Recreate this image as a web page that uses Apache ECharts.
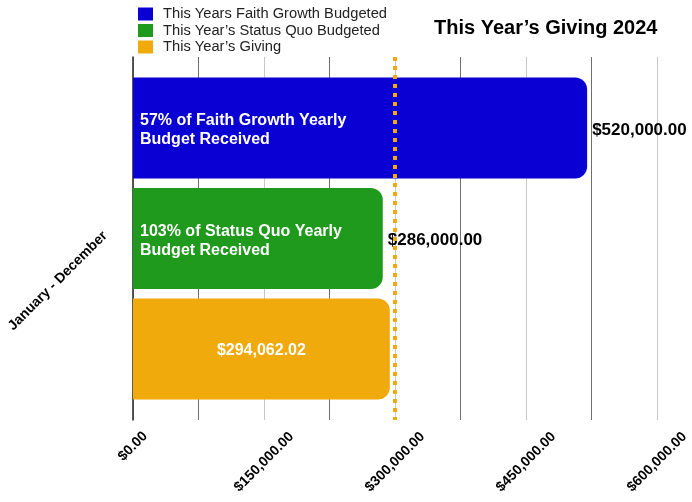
<!DOCTYPE html>
<html>
<head>
<meta charset="utf-8">
<script src="https://cdn.jsdelivr.net/npm/echarts@6/dist/echarts.min.js"></script>
<style>
html,body{margin:0;padding:0;background:#fff;}
#chart{width:692px;height:502px;}
</style>
</head>
<body>
<div id="chart"></div>
<script>
const categories = ['January - December'];
const seriesNames = ['This Years Faith Growth Budgeted', 'This Year\u2019s Status Quo Budgeted', 'This Year\u2019s Giving'];
const faithGrowth = [520000];
const statusQuo = [286000];
const giving = [294062.02];
const faithText = '57% of Faith Growth Yearly\nBudget Received';
const statusText = '103% of Status Quo Yearly\nBudget Received';
const referenceLine = 300000;
const xMin = 0, xMax = 600000, xInterval = 150000;
const titleText = 'This Year\u2019s Giving 2024';

const colors = ['#0b00d4', '#1f9a1c', '#f0aa0c'];
const FONT = '"Liberation Sans", Arial, Helvetica, sans-serif';
const money = v => '$' + Number(v).toLocaleString('en-US', {minimumFractionDigits: 2, maximumFractionDigits: 2});

const barCommon = {
  type: 'bar',
  barGap: '9.4%',
  barCategoryGap: '11.3%'
};
const radius = [0, 12, 12, 0];
const insideLabel = (txt) => ({
  show: true, position: 'insideLeft', distance: 7, offset: [0, 2.5],
  formatter: () => txt, color: '#fff', fontWeight: 'bold', fontSize: 16,
  lineHeight: 19, fontFamily: FONT
});
const valueLabel = {
  show: true, position: 'right', distance: 5, offset: [0, 2],
  formatter: p => money(p.value), color: '#000', fontWeight: 'bold', fontSize: 17, fontFamily: FONT
};
const tickFont = {color: '#000', fontWeight: 'bold', fontSize: 14, fontFamily: FONT};

const chart = echarts.init(document.getElementById('chart'));
chart.setOption({
  backgroundColor: '#fff',
  animation: false,
  title: {
    text: titleText, left: 434, top: 18, padding: 0,
    textStyle: {fontFamily: FONT, fontWeight: 'bold', fontSize: 20, color: '#000'}
  },
  legend: {
    data: seriesNames, orient: 'vertical', left: 138, top: 6, padding: 0, itemGap: 0.5,
    icon: 'rect', itemWidth: 15, itemHeight: 13,
    textStyle: {fontFamily: FONT, fontSize: 14.7, lineHeight: 16, color: '#222', padding: [0, 0, 0, 5]}
  },
  grid: {left: 133, right: 35, top: 57, bottom: 82, containLabel: false},
  xAxis: {
    type: 'value', min: xMin, max: xMax, interval: xInterval,
    axisLine: {show: false}, axisTick: {show: false},
    splitLine: {show: true, lineStyle: {color: '#c8c8c8', width: 1}},
    minorTick: {show: false, splitNumber: 2},
    minorSplitLine: {show: true, lineStyle: {color: '#6e6e6e', width: 1}},
    axisLabel: Object.assign({
      rotate: 45, margin: 42, align: 'center', verticalAlign: 'middle',
      formatter: v => v === 0 ? '{s|' + money(v) + '}' : money(v),
      rich: {s: Object.assign({padding: [0, 0, 22, 22]}, tickFont)}
    }, tickFont)
  },
  yAxis: [{
    type: 'category', data: categories, inverse: true,
    axisLine: {show: true, lineStyle: {color: '#222', width: 1.5}},
    axisTick: {show: false},
    axisLabel: Object.assign({rotate: 45, margin: 23, verticalAlign: 'bottom'}, tickFont)
  }, {
    type: 'category', data: categories, inverse: true, show: false
  }],
  series: [
    Object.assign({}, barCommon, {
      name: seriesNames[0], data: faithGrowth, yAxisIndex: 0,
      itemStyle: {color: colors[0], borderRadius: radius},
      label: insideLabel(faithText)
    }),
    Object.assign({}, barCommon, {
      name: seriesNames[1], data: statusQuo, yAxisIndex: 0,
      itemStyle: {color: colors[1], borderRadius: radius},
      label: insideLabel(statusText)
    }),
    Object.assign({}, barCommon, {
      name: seriesNames[2], data: giving, yAxisIndex: 0,
      itemStyle: {color: colors[2], borderRadius: radius},
      label: {show: true, position: 'inside', offset: [0, 2], formatter: p => money(p.value),
        color: '#fff', fontWeight: 'bold', fontSize: 16, fontFamily: FONT},
      markLine: {
        silent: true, symbol: 'none', label: {show: false},
        lineStyle: {color: colors[2], width: 4, type: [4, 5], cap: 'butt'},
        data: [{xAxis: referenceLine}]
      },
      z: 3
    }),
    Object.assign({}, barCommon, {
      name: seriesNames[0], data: faithGrowth, yAxisIndex: 1,
      itemStyle: {color: 'rgba(0,0,0,0)'}, label: valueLabel, silent: true, z: 1
    }),
    Object.assign({}, barCommon, {
      name: seriesNames[1], data: statusQuo, yAxisIndex: 1,
      itemStyle: {color: 'rgba(0,0,0,0)'}, label: valueLabel, silent: true, z: 1
    }),
    Object.assign({}, barCommon, {
      name: seriesNames[2], data: giving, yAxisIndex: 1,
      itemStyle: {color: 'rgba(0,0,0,0)'}, label: {show: false}, silent: true, z: 1
    })
  ]
});
</script>
</body>
</html>
